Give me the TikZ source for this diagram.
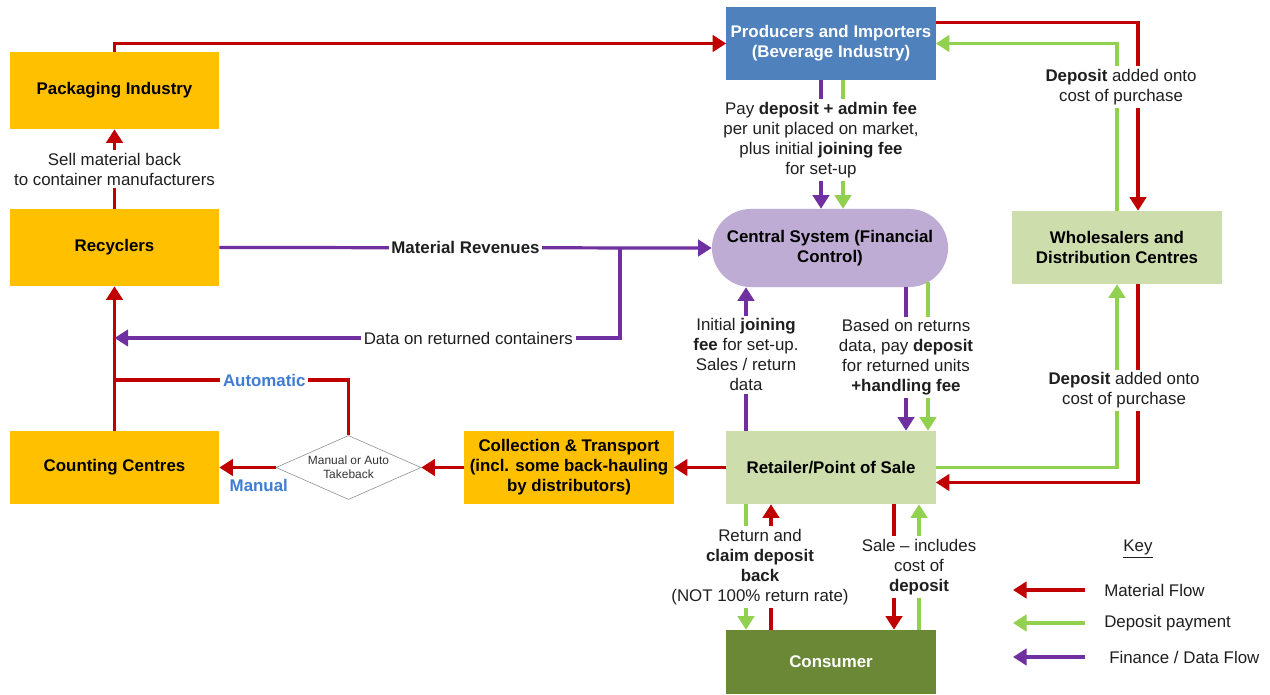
\documentclass[tikz,border=0pt]{standalone}
\usepackage{fontspec}
\setmainfont{Liberation Sans}
\usetikzlibrary{arrows.meta,positioning,calc,shapes.geometric}
\definecolor{drsred}{RGB}{192,0,0}
\definecolor{drsgreen}{RGB}{146,208,80}
\definecolor{drspurple}{RGB}{112,48,160}
\definecolor{drsgold}{RGB}{255,192,0}
\definecolor{drspale}{RGB}{205,221,172}
\definecolor{drsolive}{RGB}{107,136,55}
\definecolor{drsblue}{RGB}{79,129,189}
\definecolor{drslilac}{RGB}{190,172,212}
\definecolor{drssky}{RGB}{62,125,210}
\tikzset{
  matarr/.style={-{Triangle[length=3.4mm,width=4.1mm]}, drsred, line width=2.3pt},
  deparr/.style={-{Triangle[length=3.4mm,width=4.1mm]}, drsgreen, line width=2.3pt},
  finarr/.style={-{Triangle[length=3.4mm,width=4.1mm]}, drspurple, line width=2.3pt},
  matline/.style={drsred, line width=2.3pt},
  blk/.style={minimum width=5.225cm, minimum height=1.825cm, inner sep=2pt, align=center,
              font=\fontsize{12}{14.2}\selectfont\bfseries},
  goldbox/.style={blk, fill=drsgold},
  palebox/.style={blk, fill=drspale},
  hub/.style={blk, fill=drslilac, minimum width=5.9cm, minimum height=1.95cm, rounded corners=0.97cm},
  choice/.style={diamond, aspect=2.27, draw=black!45, fill=white, minimum width=3.625cm,
                 minimum height=1.6cm, inner sep=0pt, align=center, text=black!80,
                 font=\fontsize{8.5}{10}\selectfont},
  lbl/.style={fill=white, align=center, inner sep=2pt, text=black!88,
              font=\fontsize{12}{14.2}\selectfont},
  modelbl/.style={lbl, text=drssky, font=\fontsize{12}{14.2}\selectfont\bfseries},
  keytxt/.style={anchor=west, inner sep=0pt, text=black!88, font=\fontsize{12}{14.2}\selectfont},
}
\begin{document}
\begin{tikzpicture}[x=0.025cm, y=-0.025cm]
    \fill[white] (0,0) rectangle (1270,695);
    \useasboundingbox (0,0) rectangle (1270,695);
    % --- boxes
    \node[goldbox, minimum height=1.925cm] (pack) at (114.5,90.5) {Packaging Industry};
    \node[goldbox, minimum height=1.925cm] (recy) at (114.5,247.5) {Recyclers};
    \node[goldbox] (count) at (114.5,467.5) {Counting Centres};
    \node[choice] (pick) at (348.5,467.5) {Manual or Auto\\Takeback};
    \node[goldbox] (coll) at (569,467.5) {Collection \& Transport\\(incl. some back-hauling\\by distributors)};
    \node[palebox] (ret) at (831,467.5) {Retailer/Point of Sale};
    \node[blk, fill=drsolive, text=white, minimum height=1.6cm] (cons) at (831,662) {Consumer};
    \node[blk, fill=drsblue, text=white] (prod) at (831,43.5) {Producers and Importers\\(Beverage Industry)};
    \node[hub] (cent) at (830,248) {Central System (Financial\\Control)};
    \node[palebox] (whole) at (1117,247.5) {Wholesalers and\\Distribution Centres};
    % --- helper points
    \coordinate (prodred) at ($(prod.north east)+(0,16)$);
    \coordinate (wholered) at ($(whole.north)+(21,0)$);
    \coordinate (prodfin) at ($(prod.south)+(-10,0)$);
    \coordinate (proddep) at ($(prod.south)+(12,0)$);
    \coordinate (centfin) at ($(cent.south)+(76,0)$);
    \coordinate (centdep) at ($(cent.south)+(98,-5)$);
    \coordinate (retfin) at ($(ret.north)+(-85,0)$);
    \coordinate (retred) at ($(ret.east)+(0,15)$);
    \coordinate (retdep) at ($(ret.south)+(-85,0)$);
    \coordinate (retmat) at ($(ret.south)+(-60,0)$);
    \coordinate (salemat) at ($(ret.south)+(63,0)$);
    \coordinate (saledep) at ($(ret.south)+(88,0)$);
    \coordinate (revsplit) at (620,247.5);
    \coordinate (datalvl) at (0,338);
    \coordinate (autolvl) at (0,380);
    % --- industry loop
    \draw[matarr] (pack.north) |- (prod.west);
    \draw[matarr] (recy.north) -- (pack.south)
      node[lbl, midway] {Sell material back\\to container manufacturers};
    \draw[matarr] (count.north) -- (recy.south);
    \draw[finarr] (recy.east) -- (cent.west)
      node[lbl, midway, font=\fontsize{12}{14.2}\selectfont\bfseries] {Material Revenues};
    \draw[finarr] (revsplit) |- (count.north |- datalvl)
      node[lbl, pos=0.65] {Data on returned containers};
    \draw[matline] (pick.north) |- (count.north |- autolvl)
      node[modelbl, pos=0.68] {Automatic};
    % --- collection chain
    \draw[matarr] (ret.west) -- (coll.east);
    \draw[matarr] (coll.west) -- (pick.east);
    \draw[matarr] (pick.west) -- (count.east)
      node[modelbl, fill=none, pos=0.3, below=5pt] {Manual};
    % --- producers and wholesalers
    \draw[matarr] (prodred) -| (wholered);
    \draw[deparr] (whole.north) |- (prod.east)
      node[lbl, pos=0.37, xshift=0.1cm] {\textbf{Deposit} added onto\\cost of purchase};
    \draw[matarr] (wholered |- whole.south) |- (retred);
    \draw[deparr] (ret.east) -| (whole.south)
      node[lbl, pos=0.71, xshift=0.175cm] {\textbf{Deposit} added onto\\cost of purchase};
    % --- central system
    \draw[deparr] (proddep) -- (proddep |- cent.north);
    \draw[finarr] (prodfin) -- (prodfin |- cent.north)
      node[lbl, pos=0.465] {Pay \textbf{deposit + admin fee}\\per unit placed on market,\\plus initial \textbf{joining fee}\\for set-up};
    \draw[deparr] (centdep) -- (centdep |- ret.north);
    \draw[finarr] (centfin) -- (centfin |- ret.north)
      node[lbl, pos=0.49] {Based on returns\\data, pay \textbf{deposit}\\for returned units\\\textbf{+handling fee}};
    \draw[finarr] (retfin) -- (retfin |- cent.south)
      node[lbl, pos=0.53] {Initial \textbf{joining}\\\textbf{fee} for set-up.\\Sales / return\\data};
    % --- consumer
    \draw[deparr] (retdep) -- (retdep |- cons.north);
    \draw[matarr] (retmat |- cons.north) -- (retmat)
      node[lbl, midway, xshift=-0.275cm] {Return and\\\textbf{claim deposit}\\\textbf{back}\\(NOT 100\% return rate)};
    \draw[matarr] (salemat) -- (salemat |- cons.north);
    \draw[deparr] (saledep |- cons.north) -- (saledep)
      node[lbl, midway] {Sale -- includes\\cost of\\\textbf{deposit}};
    % --- key
    \node[lbl] (keyhead) at (1138,549) {\underline{Key}};
    \node[keytxt] (kmat) at (1104,590) {Material Flow};
    \node[keytxt] (kdep) at (1104,623) {Deposit payment};
    \node[keytxt] (kfin) at (1109,657) {Finance / Data Flow};
    \coordinate (kmattail) at ($(kmat.west)+(-19,0)$);
    \coordinate (kmattip) at ($(kmat.west)+(-91,0)$);
    \coordinate (kdeptail) at ($(kdep.west)+(-19,0)$);
    \coordinate (kdeptip) at ($(kdep.west)+(-91,0)$);
    \coordinate (kfintail) at ($(kfin.west)+(-24,0)$);
    \coordinate (kfintip) at ($(kfin.west)+(-96,0)$);
    \draw[matarr] (kmattail) -- (kmattip);
    \draw[deparr] (kdeptail) -- (kdeptip);
    \draw[finarr] (kfintail) -- (kfintip);
\end{tikzpicture}
\end{document}
